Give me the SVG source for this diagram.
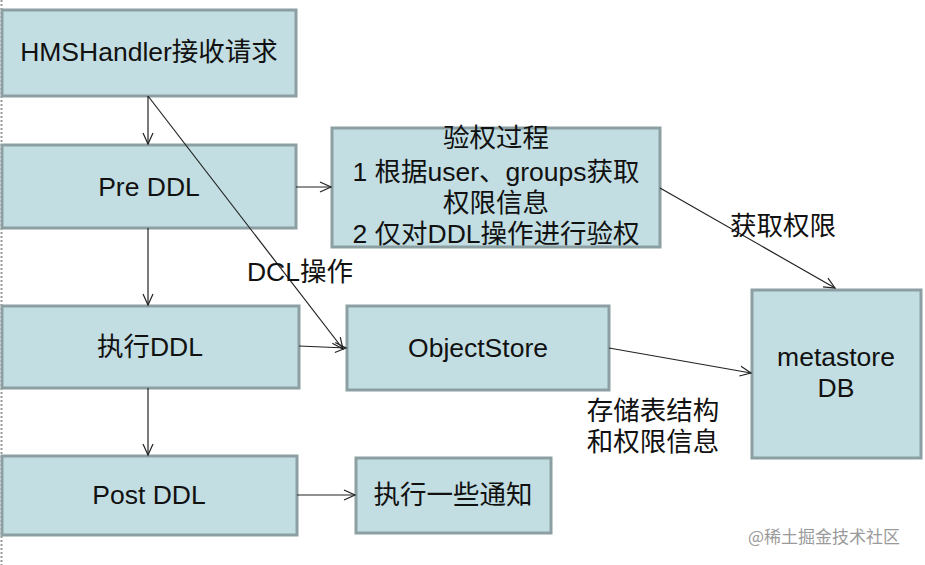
<svg xmlns="http://www.w3.org/2000/svg" width="925" height="565" viewBox="0 0 925 565">
<defs>
<style>
.box{fill:#c2dee2;stroke:#8c9fa2;stroke-width:3}
.t{font-family:"Liberation Sans","Noto Sans CJK SC",sans-serif;font-size:26.5px;fill:#111;text-anchor:middle;dominant-baseline:central}
.l{fill:none;stroke:#222;stroke-width:1.2;marker-end:url(#a)}
.wm{font-family:"Noto Sans CJK SC",sans-serif;font-size:17px;fill:#9a9a9a}
</style>
<marker id="a" markerWidth="14" markerHeight="12" refX="12" refY="6" orient="auto" markerUnits="userSpaceOnUse">
<polyline points="1,1 12,6 1,11" fill="none" stroke="#222" stroke-width="1.2"/>
</marker>
</defs>
<rect width="925" height="565" fill="#fff"/>
<line x1="1.5" y1="0" x2="1.5" y2="565" stroke="#999" stroke-width="2" stroke-dasharray="2,2"/>
<g id="n1"><rect class="box" x="2" y="10" width="294" height="86"/><text class="t" x="149" y="52">HMSHandler接收请求</text></g>
<g id="n2"><rect class="box" x="2" y="145" width="294" height="83"/><text class="t" x="149" y="187">Pre DDL</text></g>
<g id="n3"><rect class="box" x="332" y="128" width="328" height="119"/>
<text class="t" x="496" y="138">验权过程</text>
<text class="t" x="496" y="172">1 根据user、groups获取</text>
<text class="t" x="496" y="203">权限信息</text>
<text class="t" x="496" y="234">2 仅对DDL操作进行验权</text></g>
<g id="n4"><rect class="box" x="2" y="306" width="297" height="82"/><text class="t" x="150" y="347">执行DDL</text></g>
<g id="n5"><rect class="box" x="347" y="306" width="262" height="84"/><text class="t" x="478" y="348">ObjectStore</text></g>
<g id="n6"><rect class="box" x="752" y="290" width="169" height="168"/><text class="t" x="836" y="357">metastore</text><text class="t" x="836" y="388">DB</text></g>
<g id="n7"><rect class="box" x="2" y="456" width="295" height="79"/><text class="t" x="149" y="495">Post DDL</text></g>
<g id="n8"><rect class="box" x="356" y="458" width="195" height="75"/><text class="t" x="453" y="495">执行一些通知</text></g>
<g id="connectors">
<line class="l" x1="148" y1="96" x2="148" y2="144"/>
<line class="l" x1="148" y1="96" x2="343" y2="349"/>
<line class="l" x1="296" y1="187" x2="331" y2="187"/>
<line class="l" x1="660" y1="188" x2="835" y2="288"/>
<line class="l" x1="148" y1="228" x2="148" y2="305"/>
<line class="l" x1="299" y1="346" x2="346" y2="348"/>
<line class="l" x1="609" y1="348" x2="751" y2="373"/>
<line class="l" x1="148" y1="388" x2="148" y2="455"/>
<line class="l" x1="297" y1="495" x2="355" y2="495"/>
</g>
<g id="labels">
<text class="t" x="300" y="272">DCL操作</text>
<text class="t" x="783" y="226">获取权限</text>
<text class="t" x="653" y="411">存储表结构</text>
<text class="t" x="653" y="442">和权限信息</text>
</g>
<text class="wm" x="748" y="543">@稀土掘金技术社区</text>
</svg>
